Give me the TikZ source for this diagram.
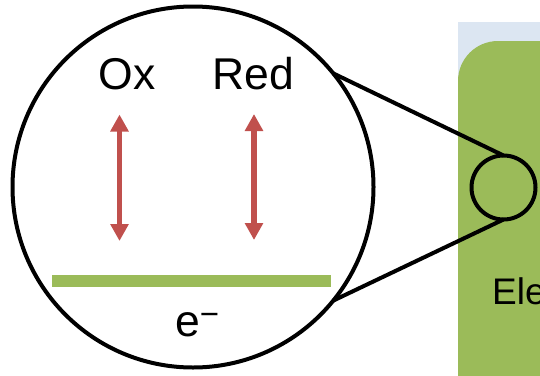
\documentclass[tikz,border=0pt]{standalone}
\usepackage{fontspec}
\setmainfont{Liberation Sans}
\usetikzlibrary{arrows.meta}
\definecolor{elgreen}{HTML}{9BBB59}
\definecolor{elred}{HTML}{C0504D}
\definecolor{elblue}{HTML}{DCE6F2}
\tikzset{
  lens/.style={circle, draw=black, line width=4pt, inner sep=0pt, outer sep=0pt},
  bigtext/.style={font=\fontsize{44.5}{44.5}\selectfont, inner sep=0pt},
  redox/.style={draw=elred, line width=5.5pt,
    {Triangle[width=17.5pt,length=17pt]}-{Triangle[width=17.5pt,length=17pt]}},
  zoomline/.style={draw=black, line width=4pt}
}
\begin{document}
\begin{tikzpicture}[x=1pt,y=-1pt]
\useasboundingbox (0,0) rectangle (540,375);
\begin{scope}
  \clip (0,0) rectangle (540,375);
  \fill[elblue] (458,22) rectangle (560,390);
  \fill[elgreen, rounded corners=40pt] (458,41) rectangle (600,420);
  \node[anchor=base west, inner sep=0pt, font=\fontsize{37}{37}\selectfont] (ele) at (492,304) {Ele};
\end{scope}
% magnifier
\node[lens, minimum size=361pt] (big) at (193,187) {};
\node[lens, minimum size=64pt] (small) at (503.5,187.5) {};
\draw[zoomline] (big.39) -- (small.north);
\draw[zoomline] (big.-39) -- (small.south);
% content of the lens
\fill[elgreen] (52,275) rectangle (331,287);
\node[bigtext, anchor=base] (ox) at (127,89.5) {Ox};
\node[bigtext, anchor=base] (red) at (253,89.5) {Red};
\coordinate (oxtop) at (119.5,114.5);
\coordinate (oxbot) at (119.5,241);
\coordinate (redtop) at (254,114);
\coordinate (redbot) at (254,240);
\draw[redox] (oxtop) -- (oxbot);
\draw[redox] (redtop) -- (redbot);
\node[bigtext, anchor=base west] (el) at (175,336.5) {e\raisebox{11.5pt}{\fontsize{33}{33}\selectfont\char"2212}};
\end{tikzpicture}
\end{document}
